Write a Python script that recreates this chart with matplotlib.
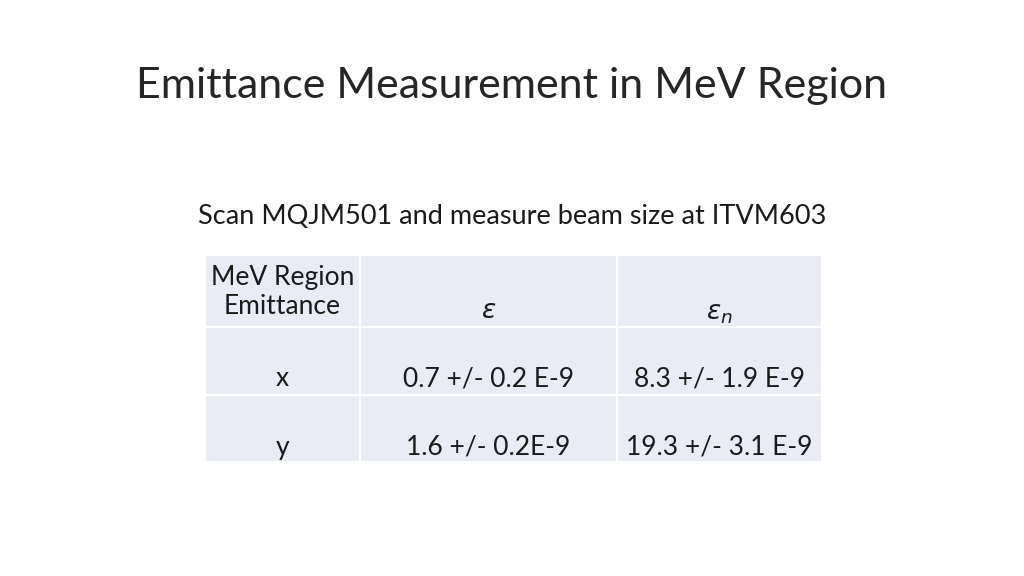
import matplotlib
matplotlib.use("Agg")
import matplotlib.pyplot as plt
from matplotlib.patches import Rectangle

title = "Emittance Measurement in MeV Region"
subtitle = "Scan MQJM501 and measure beam size at ITVM603"
header = ["MeV Region\nEmittance", r"$\varepsilon$", r"$\varepsilon_n$"]
row_labels = ["x", "y"]
eps = ["0.7 +/- 0.2 E-9", "1.6 +/- 0.2E-9"]
eps_n = ["8.3 +/- 1.9 E-9", "19.3 +/- 3.1 E-9"]

W, H = 1024, 576
fig = plt.figure(figsize=(W/100, H/100), dpi=100)
ax = fig.add_axes([0, 0, 1, 1])
ax.set_xlim(0, W); ax.set_ylim(H, 0); ax.axis("off")
font = "Lato"

ax.text(512, 86, title, ha="center", va="center", fontsize=31, color="#262626", family=font)
ax.text(512, 216, subtitle, ha="center", va="center", fontsize=19.5, color="#1a1a1a", family=font)

cols = [205, 360, 617, 822]
rows = [255, 327, 395, 462]
for i in range(3):
    for j in range(3):
        ax.add_patch(Rectangle((cols[j], rows[i]), cols[j+1]-cols[j], rows[i+1]-rows[i],
                               facecolor="#E9EBF5", edgecolor="white", lw=1.5))

cells = [header,
         [row_labels[0], eps[0], eps_n[0]],
         [row_labels[1], eps[1], eps_n[1]]]
ys = [[292, 310, 314], [379, 379, 379], [447, 447, 447]]
for i in range(3):
    for j in range(3):
        cx = (cols[j] + cols[j+1]) / 2
        ax.text(cx, ys[i][j], cells[i][j], ha="center", va="center", fontsize=19,
                color="#1a1a1a", family=font, linespacing=1.25)

fig.savefig("out.png", dpi=100, facecolor="white")
